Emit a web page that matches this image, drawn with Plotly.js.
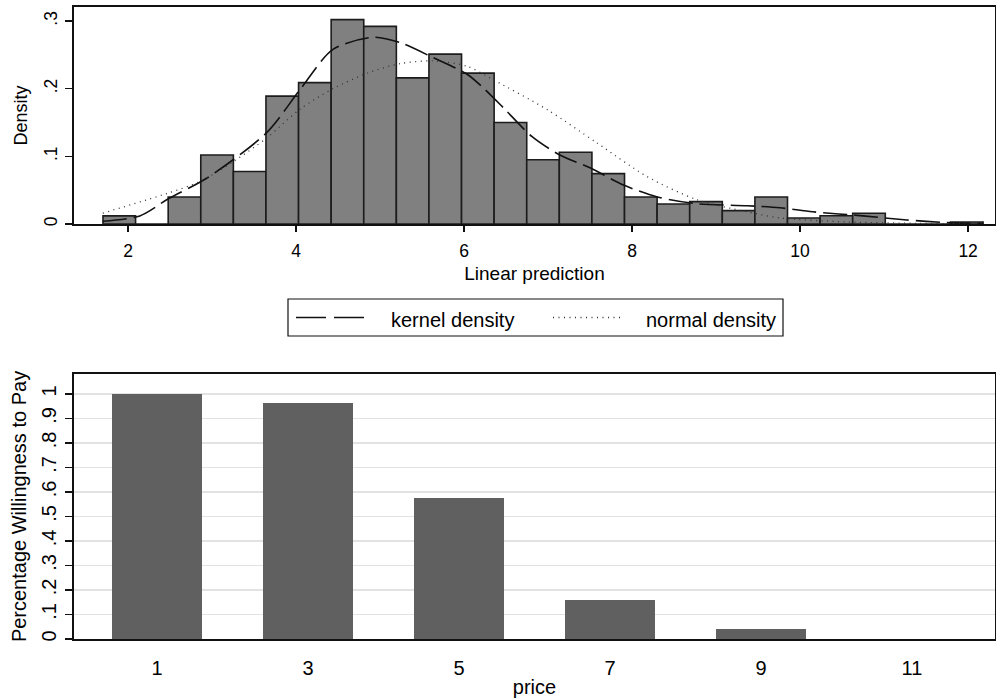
<!DOCTYPE html>
<html>
<head>
<meta charset="utf-8">
<script src="https://cdn.plot.ly/plotly-3.0.1.min.js"></script>
<style>html,body{margin:0;padding:0;background:#fff;}#chart{width:996px;height:698px;}</style>
</head>
<body>
<div id="chart"></div>
<script>
// ---------- DATA ----------
// Histogram of linear prediction (density), equal-width bins
const binStart = 1.702;
const binWidth = 0.388;
const binDensity = [0.012, 0, 0.040, 0.102, 0.0775, 0.189, 0.209, 0.302, 0.292, 0.216,
                    0.251, 0.223, 0.150, 0.095, 0.106, 0.0745, 0.040, 0.0296, 0.033, 0.0198,
                    0.040, 0.0089, 0.0123, 0.0158, 0, 0, 0.003];

// Kernel density estimate
const kernelX = [1.70, 2.14, 2.49, 2.94, 3.65, 4.05, 4.44, 4.92, 5.24, 5.63, 6.04, 6.23, 6.49,
                 6.81, 7.14, 7.50, 7.89, 8.30, 8.77, 9.37, 9.76, 10.15, 10.75, 11.27, 11.75, 12.18];
const kernelY = [0.004, 0.012, 0.038, 0.068, 0.135, 0.199, 0.258, 0.276, 0.268, 0.246, 0.221, 0.201, 0.169,
                 0.129, 0.102, 0.083, 0.058, 0.040, 0.030, 0.027, 0.024, 0.018, 0.012, 0.006, 0.002, 0.001];

// Normal density
const normalX = [1.70, 2.46, 2.86, 3.25, 3.65, 4.05, 4.44, 4.85, 5.24, 5.63, 6.04, 6.35, 6.99,
                 7.58, 8.18, 8.77, 9.37, 9.76, 10.56, 11.40, 12.18];
const normalY = [0.016, 0.045, 0.063, 0.092, 0.127, 0.170, 0.200, 0.223, 0.237, 0.241, 0.233, 0.213, 0.169,
                 0.120, 0.070, 0.036, 0.018, 0.009, 0.003, 0.001, 0.0];

const seriesNames = ['kernel density', 'normal density'];

const topXTitle = 'Linear prediction';
const topYTitle = 'Density';
const topYTickVals = [0, 0.1, 0.2, 0.3];
const topYTickText = ['0', '.1', '.2', '.3'];
const topXTickVals = [2, 4, 6, 8, 10, 12];

// Willingness to pay by price
const prices = [1, 3, 5, 7, 9, 11];
const wtpShare = [1.0, 0.963, 0.5755, 0.159, 0.041, 0.0];
const botXTitle = 'price';
const botYTitle = 'Percentage Willingness to Pay';
const botYTickVals = [0, 0.1, 0.2, 0.3, 0.4, 0.5, 0.6, 0.7, 0.8, 0.9, 1.0];
const botYTickText = ['0', '.1', '.2', '.3', '.4', '.5', '.6', '.7', '.8', '.9', '1'];

// ---------- LAYOUT HELPERS ----------
const FONT = 'Liberation Sans, Arial, Helvetica, sans-serif';
const L = 74, T = 7, W = 996, H = 698, R = 1, B = 59;
const plotW = W - L - R, plotH = H - T - B;
const px2x = p => (p - L) / plotW;
const py2y = p => (H - B - p) / plotH;

const binCenters = binDensity.map((d, i) => binStart + binWidth * (i + 0.5));

const traces = [
  {
    type: 'bar', x: binCenters, y: binDensity, width: binWidth,
    marker: {color: '#808080', line: {color: '#1c1c1c', width: 1.6}},
    xaxis: 'x', yaxis: 'y', showlegend: false, hoverinfo: 'x+y'
  },
  {
    type: 'scatter', mode: 'lines', x: kernelX, y: kernelY, name: seriesNames[0],
    line: {color: '#111', width: 1.6, dash: '24px,7px', shape: 'spline', smoothing: 0.8},
    xaxis: 'x', yaxis: 'y', showlegend: false
  },
  {
    type: 'scatter', mode: 'lines', x: normalX, y: normalY, name: seriesNames[1],
    line: {color: '#333', width: 1.3, dash: '1px,4.5px', shape: 'spline', smoothing: 0.8},
    xaxis: 'x', yaxis: 'y', showlegend: false
  },
  {
    type: 'bar', x: prices, y: wtpShare, width: 1.2,
    marker: {color: '#606060', line: {width: 0}},
    xaxis: 'x2', yaxis: 'y2', showlegend: false
  }
];

const topBottom = py2y(224);
const botTop = py2y(374);

const layout = {
  width: W, height: H,
  margin: {l: L, r: R, t: T, b: B, pad: 0},
  paper_bgcolor: '#fff', plot_bgcolor: '#fff',
  font: {family: FONT, color: '#000', size: 17},
  showlegend: false,
  bargap: 0,
  xaxis: {
    domain: [0, 1], anchor: 'y', range: [1.357, 12.32],
    tickvals: topXTickVals, ticks: 'outside', ticklen: 6, tickwidth: 1.3, tickcolor: '#111',
    showline: true, mirror: true, linecolor: '#111', linewidth: 1.6,
    showgrid: false, zeroline: false,
    tickfont: {size: 17.5, family: FONT}, ticklabelstandoff: 4,
    title: {text: topXTitle, font: {size: 19, family: FONT}, standoff: 7}
  },
  yaxis: {
    domain: [topBottom, 1], anchor: 'x', range: [0, 0.3207],
    tickvals: topYTickVals, ticktext: topYTickText, tickangle: -90,
    ticks: 'outside', ticklen: 7, tickwidth: 1.3, tickcolor: '#111',
    showline: true, mirror: true, linecolor: '#111', linewidth: 1.6,
    showgrid: false, zeroline: false,
    tickfont: {size: 17.5, family: FONT}, ticklabelstandoff: 1,
    title: {text: topYTitle, font: {size: 18, family: FONT}, standoff: 9}
  },
  xaxis2: {
    domain: [0, 1], anchor: 'y2', range: [-0.1, 12.1],
    tickvals: prices, ticks: '',
    showline: true, mirror: true, linecolor: '#111', linewidth: 1.6,
    showgrid: false, zeroline: false,
    tickfont: {size: 20, family: FONT}, ticklabelstandoff: 10,
    title: {text: botXTitle, font: {size: 20, family: FONT}, standoff: 2}
  },
  yaxis2: {
    domain: [0, botTop], anchor: 'x2', range: [0, 1.0816],
    tickvals: botYTickVals, ticktext: botYTickText, tickangle: -90,
    ticks: 'outside', ticklen: 7, tickwidth: 1.3, tickcolor: '#111',
    showline: true, mirror: true, linecolor: '#111', linewidth: 1.6,
    showgrid: true, gridcolor: '#e2e2e2', gridwidth: 1.5, zeroline: false,
    tickfont: {size: 20, family: FONT}, ticklabelstandoff: 1,
    title: {text: botYTitle, font: {size: 20, family: FONT}, standoff: 6}
  },
  shapes: [
    {type: 'rect', xref: 'paper', yref: 'paper',
     x0: px2x(288), x1: px2x(783), y0: py2y(336), y1: py2y(299),
     line: {color: '#111', width: 1.2}, fillcolor: 'rgba(0,0,0,0)'},
    {type: 'line', xref: 'paper', yref: 'paper',
     x0: px2x(296), x1: px2x(365), y0: py2y(317.5), y1: py2y(317.5),
     line: {color: '#111', width: 1.6, dash: '30px,8px'}},
    {type: 'line', xref: 'paper', yref: 'paper',
     x0: px2x(553), x1: px2x(624), y0: py2y(317.5), y1: py2y(317.5),
     line: {color: '#333', width: 1.3, dash: '1px,4.5px'}}
  ],
  annotations: [
    {xref: 'paper', yref: 'paper', x: px2x(389), y: py2y(320), xanchor: 'left', yanchor: 'middle',
     text: seriesNames[0], showarrow: false, font: {size: 20, family: FONT, color: '#000'}},
    {xref: 'paper', yref: 'paper', x: px2x(644), y: py2y(320), xanchor: 'left', yanchor: 'middle',
     text: seriesNames[1], showarrow: false, font: {size: 20, family: FONT, color: '#000'}}
  ]
};

Plotly.newPlot('chart', traces, layout, {displayModeBar: false, staticPlot: true});
</script>
</body>
</html>
